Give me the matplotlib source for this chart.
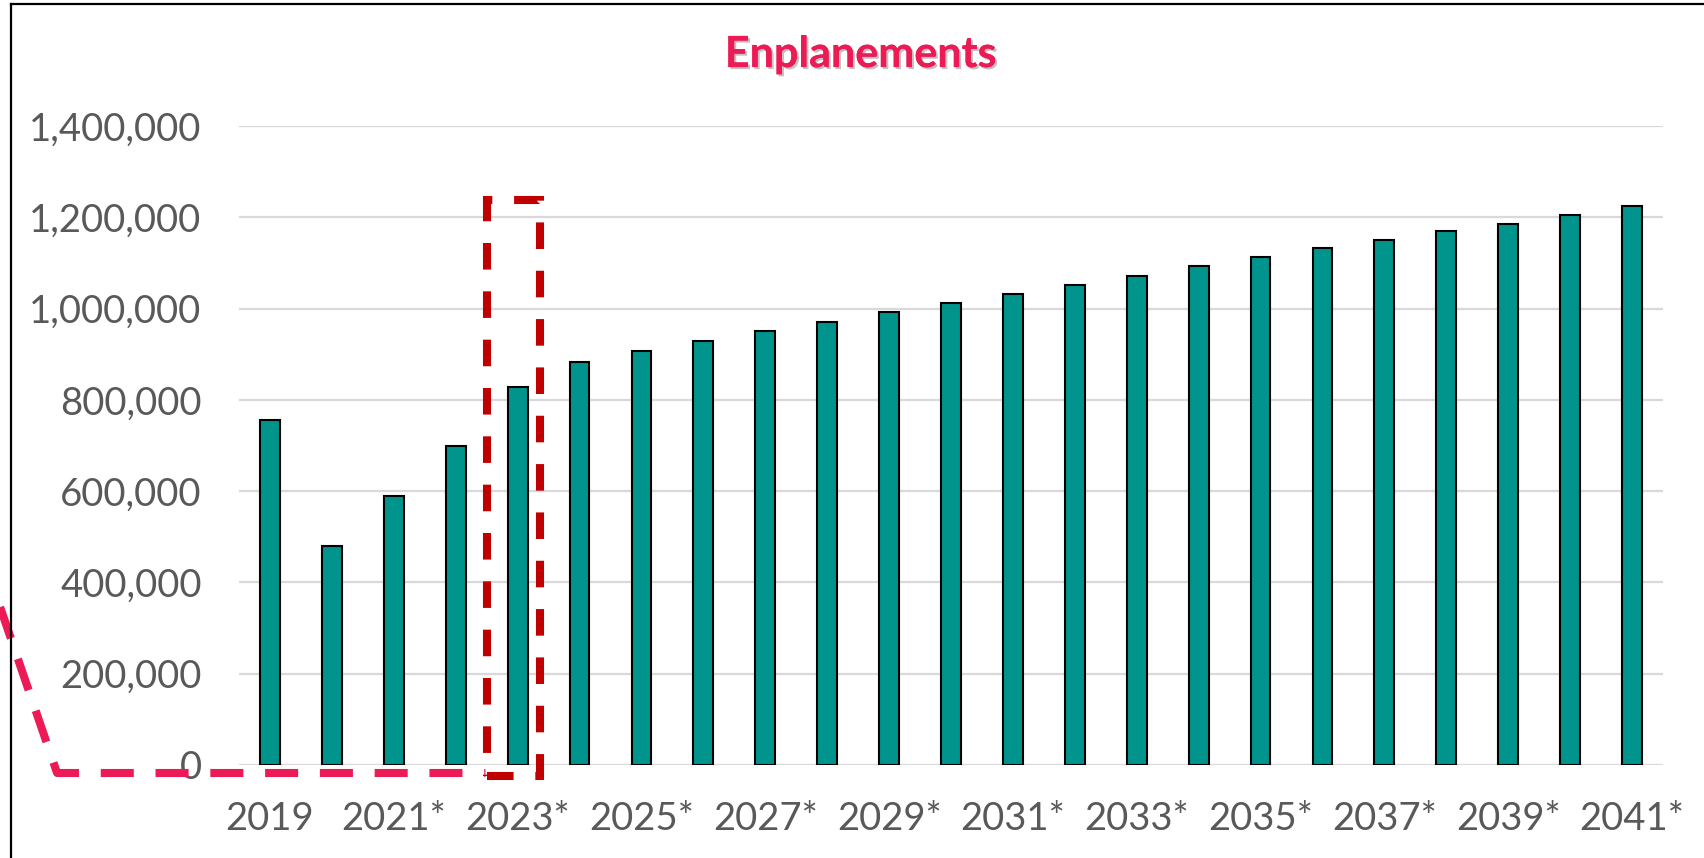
import matplotlib.pyplot as plt
import matplotlib.patheffects as pe
from matplotlib.patches import Rectangle
from matplotlib.lines import Line2D
from matplotlib.ticker import FuncFormatter

plt.rcParams['font.family'] = ['Lato', 'DejaVu Sans']

# data
years = [2019, 2020, 2021, 2022, 2023, 2024, 2025, 2026, 2027, 2028, 2029, 2030,
         2031, 2032, 2033, 2034, 2035, 2036, 2037, 2038, 2039, 2040, 2041]
forecast = [False, True, True, True, True, True, True, True, True, True, True, True,
            True, True, True, True, True, True, True, True, True, True, True]
enplanements = [757000, 479000, 590000, 698000, 829000, 883000, 907000, 929000,
                950000, 971000, 993000, 1012000, 1033000, 1052000, 1071000,
                1093000, 1112000, 1133000, 1150000, 1169000, 1186000, 1205000,
                1224000]
y_ticks = [0, 200000, 400000, 600000, 800000, 1000000, 1200000, 1400000]

labels = [f"{y}*" if f else str(y) for y, f in zip(years, forecast)]

BAR = '#00948D'
GREY = '#595959'
PINK = '#EC1A55'
DARKRED = '#C00000'

fig = plt.figure(figsize=(17.04, 8.58), dpi=100)
ax = fig.add_axes([0.1403, 0.1084, 0.8356, 0.7447])

x = list(range(len(years)))
ax.bar(x, enplanements, width=0.32, color=BAR, edgecolor='black', linewidth=1.5, zorder=3)

ax.set_xlim(-0.5, len(years) - 0.5)
ax.set_ylim(0, 1400000)
ax.set_yticks(y_ticks)
ax.yaxis.set_major_formatter(FuncFormatter(lambda v, p: f"{int(v):,}"))
ax.set_xticks(x[::2])
ax.set_xticklabels(labels[::2])
ax.tick_params(axis='both', length=0, labelsize=27.5, labelcolor=GREY)
ax.tick_params(axis='y', pad=27)
ax.tick_params(axis='x', pad=26)
ax.grid(axis='y', color='#D9D9D9', linewidth=1.6, zorder=0)
for s in ax.spines.values():
    s.set_visible(False)

# title with soft shadow
fig.text(0.505, 0.937, 'Enplanements', ha='center', va='center', fontsize=31,
         fontweight='bold', color=PINK,
         path_effects=[pe.withSimplePatchShadow(offset=(1.5, -1.5), shadow_rgbFace='#999999', alpha=0.6),
                       pe.Normal()])

# highlight box around 2023
hl = years.index(2023)
ax.add_patch(Rectangle((hl - 0.494, -24000), 0.857, 1262000, fill=False,
                       edgecolor=DARKRED, linewidth=5.8, linestyle=(0, (3.3, 2.7)),
                       clip_on=False, zorder=5))

# pink dashed connector coming in from the left
ax.add_line(Line2D([-4.36, -3.44, hl - 0.52], [346000, -17500, -17500], color=PINK,
                   linewidth=5.8, linestyle=(0, (4.1, 2.7)), clip_on=False, zorder=4))

# outer frame (cropped on right and bottom)
fig.add_artist(Line2D([0.0062, 0.0062], [0.0, 0.9959], color='black', linewidth=1.6))
fig.add_artist(Line2D([0.0062, 1.0], [0.9959, 0.9959], color='black', linewidth=1.6))

fig.savefig('out.png', dpi=100, facecolor='white')
